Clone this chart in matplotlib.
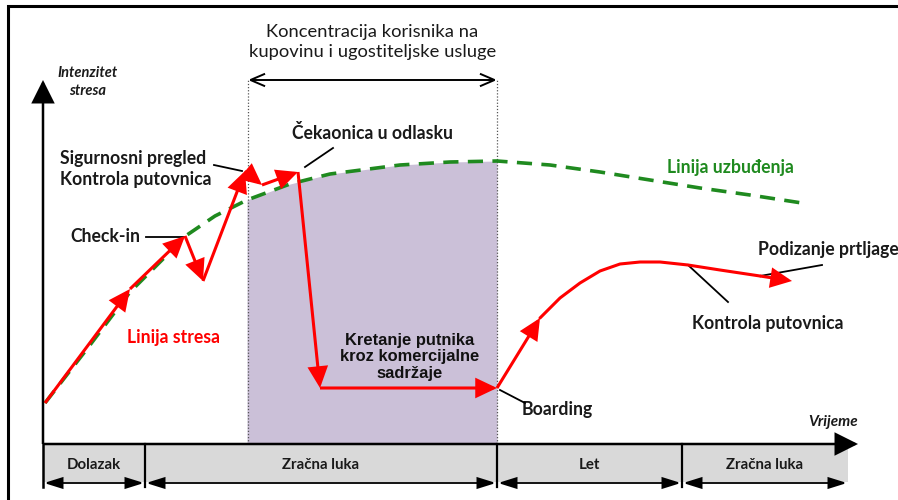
import matplotlib
matplotlib.use("Agg")
import matplotlib.pyplot as plt
from matplotlib.patches import FancyArrowPatch, Rectangle
import numpy as np

# ---- data (time on x, stress intensity on y; origin at the axes corner) ----
stress_x = [2, 87, 142, 160, 202, 219, 255, 277, 454, 497]
stress_y = [41, 155, 208, 163, 273, 259, 272, 56, 56, 126]
return_x = [497, 517, 537, 557, 577, 597, 617, 645, 677, 717, 749]
return_y = [126, 146, 161, 173, 180, 182, 182, 179, 174, 168, 163]
excite_x = [2, 47, 87, 117, 144, 172, 204, 247, 287, 357, 407, 454, 507, 557, 607, 657, 707, 759]
excite_y = [41, 99, 152, 182, 209, 228, 244, 260, 270, 279, 282, 283, 279, 272, 264, 256, 249, 241]
phase_edges = [0, 102, 454, 639, 805]
phase_labels = ["Dolazak", "Zračna luka", "Let", "Zračna luka"]
shop_start, shop_end = 205, 454

RED = "#ff0000"
GREEN = "#1f8a1f"
FONT = "Lato"
TXT = "#1a1a1a"
FS = 12.7

fig = plt.figure(figsize=(8.98, 5.0), dpi=100)
ax = fig.add_axes([0, 0, 1, 1])
ax.set_xlim(-43, 855)
ax.set_ylim(-56, 444)
ax.axis("off")


def arrow(a, b, style, color="black", lw=1.5, ms=14, z=3):
    ax.add_patch(FancyArrowPatch(a, b, arrowstyle=style, mutation_scale=ms, color=color,
                                 lw=lw, shrinkA=0, shrinkB=0, joinstyle="miter",
                                 capstyle="butt", zorder=z))


# outer frame
ax.add_patch(Rectangle((-35, -80), 930, 518, fill=False, lw=2.2, ec="black",
                       clip_on=False, zorder=1))

# shaded shopping region under the excitement line
ex = np.array(excite_x)
ey = np.array(excite_y)
m = (ex >= shop_start - 1) & (ex <= shop_end)
ax.fill_between(ex[m], 0, ey[m], color="#cbc0d8", lw=0, zorder=0.5)

# dotted bracket lines
for xv in (shop_start, shop_end):
    ax.plot([xv, xv], [0, 364], ls=(0, (1, 1.5)), color="#555555", lw=0.9, zorder=1)
arrow((shop_start, 364), (shop_end, 364), "<->,head_length=0.7,head_width=0.3", lw=1.4, ms=15)
ax.text((shop_start + shop_end) / 2, 402, "Koncentracija korisnika na\nkupovinu i ugostiteljske usluge",
        ha="center", va="center", fontsize=13.2, family=FONT, linespacing=1.3, color=TXT)

# bottom phase band
ax.add_patch(Rectangle((phase_edges[0], -38), phase_edges[-1] - phase_edges[0], 38,
                       fc="#d9d9d9", ec="none", zorder=0.5))
for xe in phase_edges[1:-1]:
    ax.plot([xe, xe], [0, -43], color="black", lw=1.6, zorder=2)
for i, lab in enumerate(phase_labels):
    a, b = phase_edges[i], phase_edges[i + 1]
    ax.text((a + b) / 2, -21, lab, ha="center", va="center", fontsize=10.8, family=FONT,
            fontweight="bold", color=TXT)
    arrow((a + 1, -39), (b - 1, -39), "<|-|>,head_length=0.8,head_width=0.25", lw=1.3, ms=14)

# axes
ax.plot([0, 0], [-43, 0], color="black", lw=1.8, zorder=2)
arrow((0, 0), (0, 364), "-|>,head_length=1.0,head_width=0.5", lw=1.8, ms=14)
arrow((0, 0), (815, 0), "-|>,head_length=1.0,head_width=0.5", lw=1.8, ms=14)
ax.text(45, 362, "Intenzitet\nstresa", ha="center", va="center", fontsize=10.5, family=FONT,
        fontweight="bold", style="italic", linespacing=1.35, color=TXT)
ax.text(790, 22, "Vrijeme", ha="center", va="center", fontsize=11, family=FONT,
        fontweight="bold", style="italic", color=TXT)

# excitement line
ax.plot(ex, ey, color=GREEN, lw=2.6, ls=(0, (4.2, 2.6)), zorder=2)
ax.text(624, 277, "Linija uzbuđenja", ha="left", va="center", fontsize=FS, family=FONT,
        fontweight="bold", color=GREEN)

# stress line
head = "-|>,head_length=0.8,head_width=0.38"
for i in range(len(stress_x) - 1):
    arrow((stress_x[i], stress_y[i]), (stress_x[i + 1], stress_y[i + 1]), head,
          color=RED, lw=2.2, ms=15, z=4)
ax.plot(return_x[:-1], return_y[:-1], color=RED, lw=2.2, zorder=4, solid_capstyle="round",
        solid_joinstyle="round")
arrow((return_x[-2], return_y[-2]), (return_x[-1], return_y[-1]), head, color=RED, lw=2.2, ms=15, z=4)
ax.text(84, 106, "Linija stresa", ha="left", va="center", fontsize=FS, family=FONT,
        fontweight="bold", color=RED)

# annotations
def leader(a, b):
    ax.plot([a[0], b[0]], [a[1], b[1]], color="black", lw=1.3, zorder=3)

ax.text(17, 275, "Sigurnosni pregled\nKontrola putovnica", ha="left", va="center", fontsize=FS,
        family=FONT, fontweight="bold", linespacing=1.3, color=TXT)
leader((171, 279), (199, 273))
ax.text(27, 207, "Check-in", ha="left", va="center", fontsize=FS, family=FONT,
        fontweight="bold", color=TXT)
leader((103, 207), (142, 207))
ax.text(249, 311, "Čekaonica u odlasku", ha="left", va="center", fontsize=FS, family=FONT,
        fontweight="bold", color=TXT)
leader((262, 277), (290, 296))
ax.text(367, 87, "Kretanje putnika\nkroz komercijalne\nsadržaje", ha="center", va="center",
        fontsize=11.9, family="Liberation Sans", fontweight="bold", linespacing=1.1, color="#111111")
ax.text(479, 34, "Boarding", ha="left", va="center", fontsize=FS, family=FONT,
        fontweight="bold", color=TXT)
leader((457, 54), (482, 41))
ax.text(715, 194, "Podizanje prtljage", ha="left", va="center", fontsize=FS, family=FONT,
        fontweight="bold", color=TXT, clip_on=False)
leader((717, 168), (779, 179))
ax.text(649, 121, "Kontrola putovnica", ha="left", va="center", fontsize=FS, family=FONT,
        fontweight="bold", color=TXT)
leader((645, 179), (685, 142))

fig.savefig("out.png", dpi=100)
